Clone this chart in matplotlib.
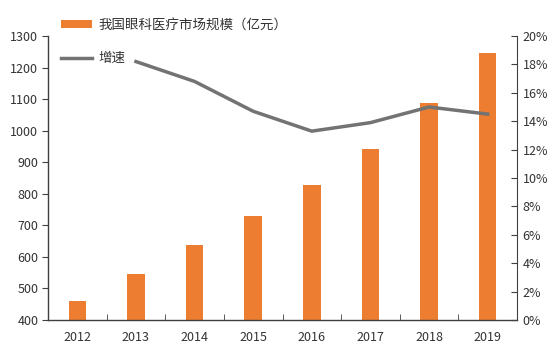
import matplotlib
matplotlib.use("Agg")
import matplotlib.pyplot as plt
from matplotlib.ticker import FuncFormatter

plt.rcParams['font.family'] = ['Noto Sans CJK SC', 'DejaVu Sans']

years = ['2012', '2013', '2014', '2015', '2016', '2017', '2018', '2019']
market_size = [461, 546, 638, 730, 829, 943, 1087, 1245]  # 亿元
growth_years = ['2013', '2014', '2015', '2016', '2017', '2018', '2019']
growth = [18.2, 16.8, 14.7, 13.3, 13.9, 15.0, 14.5]  # %

orange = '#ED7D31'
gray = '#737373'

fig = plt.figure(figsize=(5.5, 3.59), dpi=100)
ax = fig.add_axes([0.0873, 0.1086, 0.8527, 0.7911])

x = list(range(len(years)))
bars = ax.bar(x, [v - 400 for v in market_size], bottom=400, width=0.3,
              color=orange, label='我国眼科医疗市场规模（亿元）', zorder=2)
ax.set_ylim(400, 1300)
ax.set_xlim(-0.5, len(years) - 0.5)
ax.set_yticks(range(400, 1301, 100))
ax.set_xticks(x)
ax.set_xticklabels(years)
ax.set_xticks([i + 0.5 for i in x[:-1]], minor=True)
ax.tick_params(axis='x', which='major', length=0, pad=8)
ax.tick_params(axis='x', which='minor', length=4, direction='in', color='#404040')
ax.tick_params(axis='y', length=4, direction='out', color='#404040', pad=3)
ax.tick_params(labelsize=9, labelcolor='#333333')
ax.spines['top'].set_visible(False)
ax.spines['right'].set_visible(False)
for s in ('left', 'bottom'):
    ax.spines[s].set_color('#404040')
    ax.spines[s].set_linewidth(1.0)

ax2 = ax.twinx()
gx = [years.index(y) for y in growth_years]
line, = ax2.plot(gx, growth, color=gray, linewidth=2.5, label='增速', zorder=3)
ax2.set_ylim(0, 20)
ax2.set_yticks(range(0, 21, 2))
ax2.yaxis.set_major_formatter(FuncFormatter(lambda v, p: f'{int(v)}%'))
ax2.tick_params(axis='y', length=4, direction='in', color='#404040', pad=4,
                labelsize=9, labelcolor='#333333')
for s in ('top', 'left', 'bottom'):
    ax2.spines[s].set_visible(False)
ax2.spines['right'].set_color('#404040')

fig.legend(handles=[bars, line], loc='upper left', bbox_to_anchor=(0.088, 0.985),
           frameon=False, fontsize=9.7, labelspacing=1.45, handlelength=2.3,
           handleheight=0.5, handletextpad=0.5, labelcolor='#333333')

fig.savefig('out.png', dpi=100)
